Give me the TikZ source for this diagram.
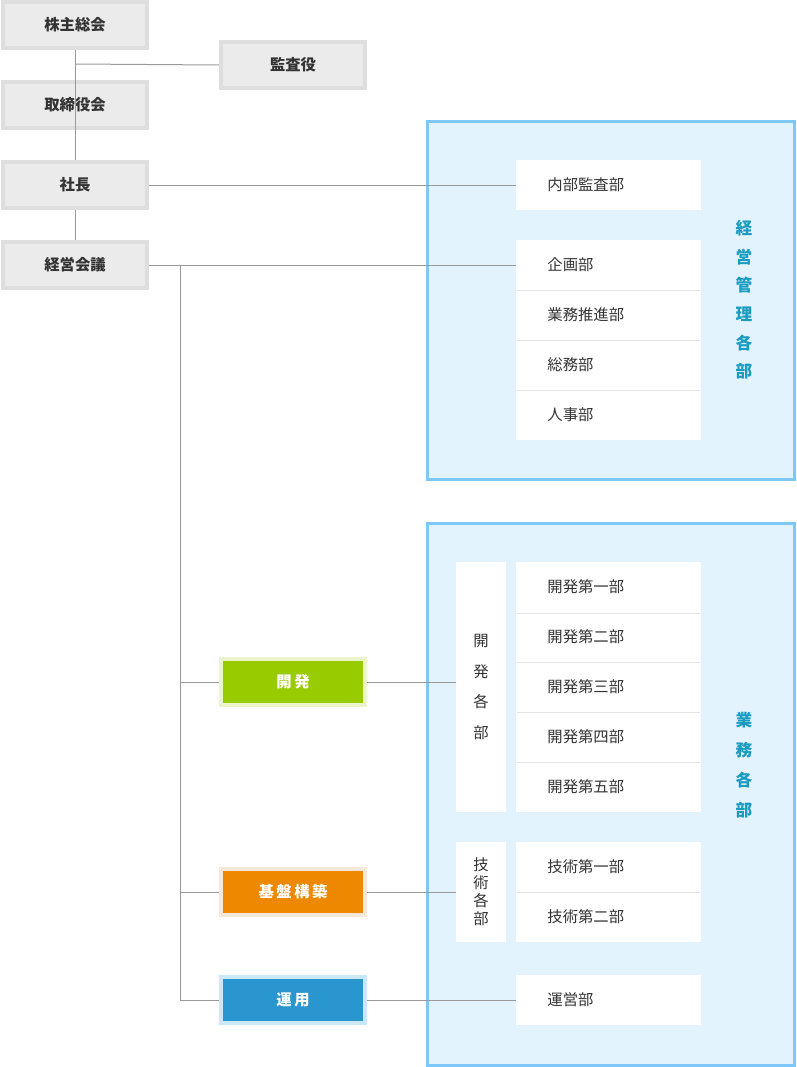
\documentclass[tikz,border=0pt]{standalone}
\usepackage{fontspec}
\setmainfont{Noto Sans CJK JP}
\begin{document}
\begin{tikzpicture}[x=0.75pt,y=-0.75pt,font=\fontsize{11.5}{12}\selectfont]
\definecolor{gb}{HTML}{DEDEDE}\definecolor{gf}{HTML}{EBEBEB}
\definecolor{pb}{HTML}{7DC8F8}\definecolor{pf}{HTML}{E3F3FD}
\definecolor{tc}{HTML}{333333}\definecolor{lc}{HTML}{999999}
\definecolor{hc}{HTML}{1A9CC0}
\tikzset{
 gbox/.style={draw=gb,fill=gf,line width=3pt,minimum width=108pt,minimum height=34.5pt,inner sep=0pt,text=tc,font=\fontsize{11.5}{12}\selectfont\bfseries},
 cbox/.style={line width=3pt,minimum width=108pt,minimum height=34.5pt,inner sep=0pt,text=white,font=\fontsize{11.5}{12}\selectfont\bfseries},
 wbox/.style={fill=white,draw=none,minimum width=138.75pt,minimum height=37.5pt,inner sep=0pt,text=tc},
 ln/.style={draw=lc,line width=0.75pt},
 sep/.style={draw=gray!20,line width=0.75pt}
}
\useasboundingbox (0,0) rectangle (796,1067);
% panels
\node[draw=pb,fill=pf,line width=2.25pt,minimum width=275.25pt,minimum height=268.5pt,inner sep=0pt] (p1) at (611,300) {};
\node[draw=pb,fill=pf,line width=2.25pt,minimum width=275.25pt,minimum height=406.5pt,inner sep=0pt] (p2) at (611,794) {};
% left boxes
\node[gbox] (kabu) at (75,25) {株主総会};
\node[gbox] (kansa) at (293,65) {監査役};
\node[gbox] (tori) at (75,105) {取締役会};
\node[gbox] (sha) at (75,185) {社長};
\node[gbox] (kei) at (75,265) {経営会議};
\draw[ln] (kabu.south) -- (tori.north);
\draw[ln] (tori.north) -- (sha.north);
\coordinate (j1) at (75,64);
\draw[ln] (j1) -- (kansa.west);
\draw[ln] (tori.south) -- (sha.north);
\draw[ln] (sha.south) -- (kei.north);
% white boxes top
\node[wbox,minimum height=37.5pt,anchor=west,align=left,text width=120pt] (naibu) at (516,185) {\hspace*{14pt}内部監査部};
\foreach \y/\t/\n in {265/企画部/a1,315/業務推進部/a2,365/総務部/a3,415/人事部/a4}
 \node[wbox,anchor=west,align=left,text width=120pt] (\n) at (516,\y) {\hspace*{14pt}\t};
\foreach \y in {290,340,390} \draw[sep] (517,\y) -- (700,\y);
\node[text=hc,font=\fontsize{12.5}{21.5}\selectfont\bfseries,align=center] (lab1) at (744,300) {経\\営\\管\\理\\各\\部};
\draw[ln] (sha.east) -- (naibu.west);
\draw[ln] (kei.east) -- (a1.west);
% bottom
\foreach \y/\t/\n in {587/開発第一部/b1,637/開発第二部/b2,687/開発第三部/b3,737/開発第四部/b4,787/開発第五部/b5,867/技術第一部/c1,917/技術第二部/c2,1000/運営部/d1}
 \node[wbox,anchor=west,align=left,text width=120pt] (\n) at (516,\y) {\hspace*{14pt}\t};
\foreach \y in {613,662,712,762,892} \draw[sep] (517,\y) -- (700,\y);
\node[fill=white,minimum width=37.5pt,minimum height=187.5pt,inner sep=0pt,text=tc,align=center,font=\fontsize{11.5}{23}\selectfont] (kg) at (481,687) {開\\発\\各\\部};
\node[fill=white,minimum width=37.5pt,minimum height=75pt,inner sep=0pt,text=tc,align=center,font=\fontsize{11.5}{13.5}\selectfont] (gj) at (481,892) {技\\術\\各\\部};
\node[text=hc,font=\fontsize{12.5}{22.5}\selectfont\bfseries,align=center] (lab2) at (744,765) {業\\務\\各\\部};
\node[cbox,draw=green!8!white!90!yellow,fill=green!60!black!40!yellow] (kai) at (293,682) {};
\node[cbox,draw={rgb,255:red,234;green,245;blue,204},fill={rgb,255:red,153;green,204;blue,0}] (kai) at (293,682) {開\,発};
\node[cbox,draw={rgb,255:red,245;green,232;blue,216},fill={rgb,255:red,238;green,136;blue,0}] (kib) at (293,892) {基\,盤\,構\,築};
\node[cbox,draw={rgb,255:red,204;green,232;blue,248},fill={rgb,255:red,42;green,150;blue,208}] (un) at (293,1000) {運\,用};
\coordinate (v1) at (180,265);
\coordinate (v2) at (180,1000);
\draw[ln] (v1) -- (v2) -- (un.west);
\draw[ln] (180,682) -- (kai.west);
\draw[ln] (180,892) -- (kib.west);
\draw[ln] (kai.east) -- (kg.west |- kai.east);
\draw[ln] (kib.east) -- (gj.west |- kib.east);
\draw[ln] (un.east) -- (d1.west);
\end{tikzpicture}
\end{document}
